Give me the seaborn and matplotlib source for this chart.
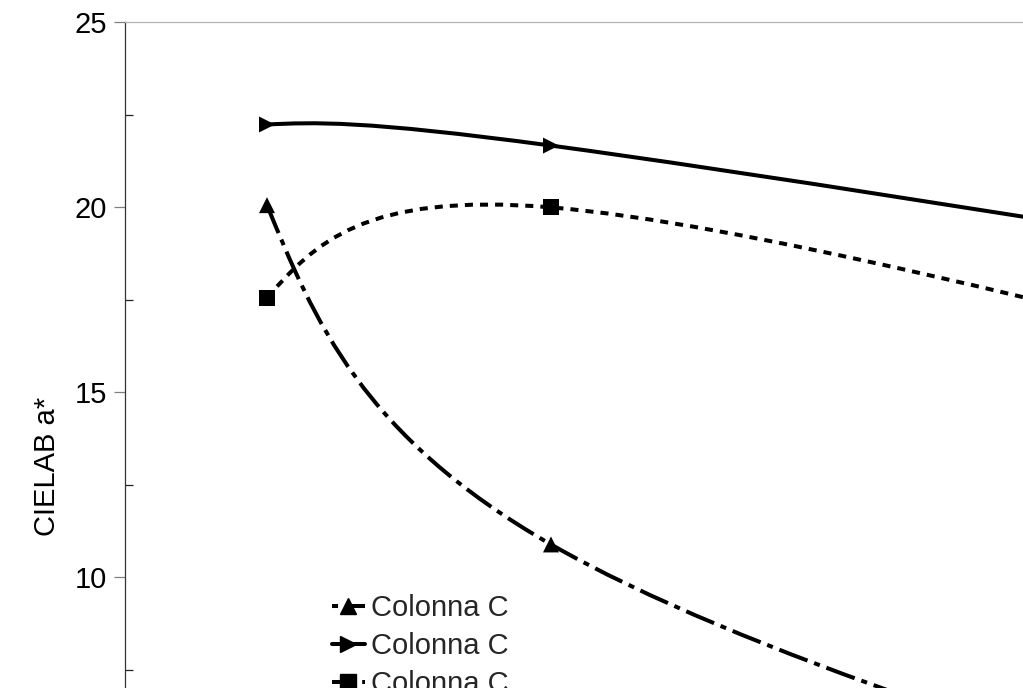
import numpy as np
import pandas as pd
import matplotlib
matplotlib.use("Agg")
import matplotlib.pyplot as plt
from matplotlib.path import Path
from matplotlib.patches import PathPatch
from matplotlib.lines import Line2D
from matplotlib.ticker import FixedLocator, MultipleLocator
import seaborn as sns

# Sampling positions on the x axis
x_values = [1, 3, 9]
# CIELAB a* readings of the three series
values_tri = [20.05, 10.88, 2.45]
values_arrow = [22.23, 21.66, 18.1]
values_square = [17.55, 19.99, 15.0]
series_names = ["Colonna C", "Colonna C", "Colonna C"]
y_ticks = [0, 5, 10, 15, 20, 25]
y_label = "CIELAB a*"

sns.set_theme(style="white")
plt.rcParams["font.family"] = ["Liberation Sans", "DejaVu Sans"]

LW = 2.9
MS = 11.5
FS = 21

DASHDOT = (0, (7.5, 1.75, 1.5, 1.75))
DOTTED = (0, (2.0, 1.75))

series = [
    dict(key="s1", values=values_tri, marker="^", ls=DASHDOT,
         legend_ls=(9.25, (7.5, 1.75, 1.5, 1.75))),
    dict(key="s2", values=values_arrow, marker=">", ls="-", legend_ls="-"),
    dict(key="s3", values=values_square, marker="s", ls=DOTTED,
         legend_ls=(0, (2.0, 1.75))),
]


def natural_spline_path(xs, ys):
    """Parametric natural cubic spline through the points, as Bezier segments."""
    pts = np.column_stack([xs, ys]).astype(float)
    n = len(pts)
    A = np.zeros((n, n))
    rhs = np.zeros((n, 2))
    A[0, 0] = A[-1, -1] = 1.0
    for i in range(1, n - 1):
        A[i, i - 1:i + 2] = [1.0, 4.0, 1.0]
        rhs[i] = 6.0 * (pts[i + 1] - 2.0 * pts[i] + pts[i - 1])
    M = np.linalg.solve(A, rhs)
    D = np.zeros_like(pts)
    for i in range(n - 1):
        D[i] = (pts[i + 1] - pts[i]) - (2.0 * M[i] + M[i + 1]) / 6.0
    D[-1] = (pts[-1] - pts[-2]) + (M[-2] + 2.0 * M[-1]) / 6.0
    verts = [pts[0]]
    codes = [Path.MOVETO]
    for i in range(n - 1):
        verts += [pts[i] + D[i] / 3.0, pts[i + 1] - D[i + 1] / 3.0, pts[i + 1]]
        codes += [Path.CURVE4] * 3
    return Path(np.array(verts), codes)


fig = plt.figure(figsize=(10.23, 6.88), dpi=100)
# plot area: left edge at 125 px, y=25 at 22 px, y=0 below the visible area
ax = fig.add_axes([125 / 1023, 1 - 947 / 688, 1420 / 1023, 925 / 688])
ax.set_xlim(0, 10)
ax.set_ylim(0, 25)

# smoothed connecting curves
for s in series:
    path = natural_spline_path(x_values, s["values"])
    patch = PathPatch(path, fill=False, edgecolor="black", linewidth=LW,
                      linestyle=s["ls"], capstyle="butt", joinstyle="round",
                      transform=ax.transData, zorder=2)
    ax.add_patch(patch)

# point markers
rows = []
for s in series:
    for xv, yv in zip(x_values, s["values"]):
        rows.append({"x": xv, "a": yv, "serie": s["key"]})
df = pd.DataFrame(rows)
sns.scatterplot(data=df, x="x", y="a", style="serie",
                markers={s["key"]: s["marker"] for s in series},
                color="black", edgecolor="black", linewidth=0,
                s=MS ** 2, legend=False, ax=ax, zorder=3)

# axes styling
for side in ("right", "bottom"):
    ax.spines[side].set_visible(False)
ax.spines["top"].set_color("#b3b3b3")
ax.spines["top"].set_linewidth(0.9)
ax.spines["left"].set_color("#333333")
ax.spines["left"].set_linewidth(0.9)

ax.set_xticks([])
ax.yaxis.set_major_locator(FixedLocator(y_ticks))
ax.yaxis.set_minor_locator(MultipleLocator(2.5))
ax.tick_params(axis="y", which="major", left=True, direction="out",
               length=8, width=0.9, color="#808080", labelsize=FS,
               pad=5, labelcolor="black")
ax.tick_params(axis="y", which="minor", left=True, direction="in",
               length=5.5, width=0.9, color="#222222")
ax.set_xlabel("")
ax.set_ylabel(y_label, fontsize=FS, color="black")
ax.yaxis.set_label_coords(-78 / 1420, (947 - 466) / 925)
ax.yaxis.label.set_va("center")

# legend
handles = [
    Line2D([], [], color="black", linewidth=LW, linestyle=s["legend_ls"],
           marker=s["marker"], markersize=MS, dash_capstyle="butt")
    for s in series
]
fig.legend(handles, series_names, loc="upper left",
           bbox_to_anchor=(332 / 1023, 1 - 594 / 688), frameon=False,
           fontsize=FS, borderpad=0, borderaxespad=0, handlelength=1.13,
           handletextpad=0.2, labelspacing=0.34, handleheight=0.7)

fig.savefig("out.png", dpi=100)
